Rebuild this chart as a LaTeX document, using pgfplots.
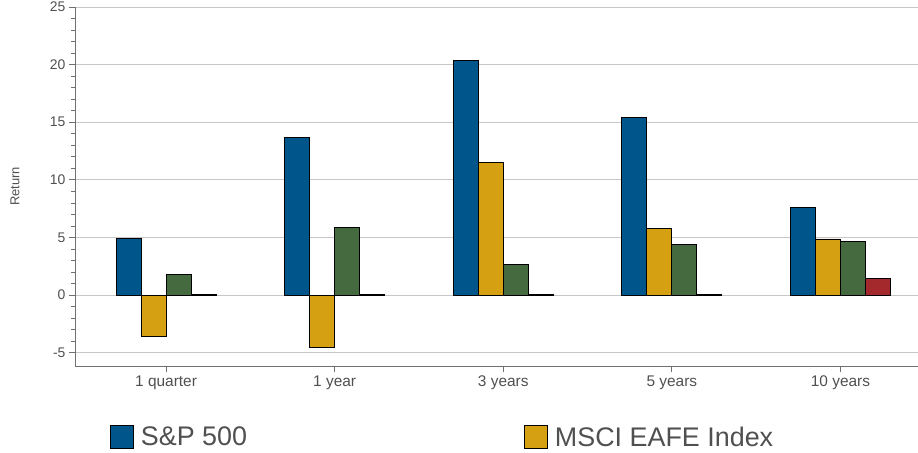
\documentclass[border=0pt]{standalone}
\usepackage{fontspec}
\setmainfont{Liberation Sans}
\usepackage{pgfplots}
\pgfplotsset{compat=1.18}
\definecolor{cblue}{HTML}{00568A}
\definecolor{cyellow}{HTML}{D5A011}
\definecolor{cgreen}{HTML}{466A3F}
\definecolor{cred}{HTML}{A3292D}
\definecolor{txt}{HTML}{505050}
\definecolor{axl}{HTML}{707070}
\begin{document}
\begin{tikzpicture}
\useasboundingbox (0,0) rectangle (918bp,453bp);
\begin{axis}[
  at={(75bp,87bp)}, anchor=south west,
  scale only axis, width=843bp, height=359bp,
  ymin=-6.15, ymax=25, xmin=-0.54, xmax=4.46,
  ybar=0pt, bar width=25bp,
  axis x line*=bottom, axis y line*=left,
  xtick={0,1,2,3,4},
  xticklabels={1 quarter,1 year,3 years,5 years,10 years},
  ytick={-5,0,5,10,15,20,25},
  minor y tick num=4,
  ymajorgrids, grid style={black!22, line width=0.8bp},
  tick align=outside, major tick length=6bp, minor tick length=4bp,
  axis line style={axl, line width=0.9bp}, tick style={axl, line width=0.8bp},
  yticklabel style={font=\fontsize{14}{16}\selectfont, text=txt},
  xticklabel style={font=\fontsize{15.5}{17}\selectfont, text=txt},
  /pgf/number format/assume math mode=true,
  ylabel={Return},
  ylabel style={font=\fontsize{13}{15}\selectfont, text=txt, at={(axis description cs:-0.0712,0.5)}, anchor=center},
  legend style={at={(axis description cs:0.0415,-0.198)}, anchor=west, draw=none, fill=none,
    inner sep=0pt, outer sep=0pt, font=\fontsize{27}{30}\selectfont, text=txt,
    nodes={inner xsep=7bp},
    /tikz/every even column/.append style={column sep=270bp}},
  legend columns=2,
  legend cell align=left,
  legend image code/.code={\draw[#1, line width=0.9bp] (0bp,-11.5bp) rectangle (23bp,11.5bp);},
]
\addplot[fill=cblue, draw=black, line width=0.8bp] coordinates {(0,4.93) (1,13.68) (2,20.35) (3,15.4) (4,7.62)};
\addlegendentry{S\&P 500}
\addplot[fill=cyellow, draw=black, line width=0.8bp] coordinates {(0,-3.55) (1,-4.5) (2,11.5) (3,5.77) (4,4.87)};
\addlegendentry{MSCI EAFE Index}
\addplot[fill=cgreen, draw=black, line width=0.8bp] coordinates {(0,1.79) (1,5.89) (2,2.66) (3,4.41) (4,4.67)};
\addplot[fill=cred, draw=black, line width=0.8bp] coordinates {(0,0.03) (1,0.04) (2,0.06) (3,0.07) (4,1.44)};
\end{axis}
\end{tikzpicture}
\end{document}
